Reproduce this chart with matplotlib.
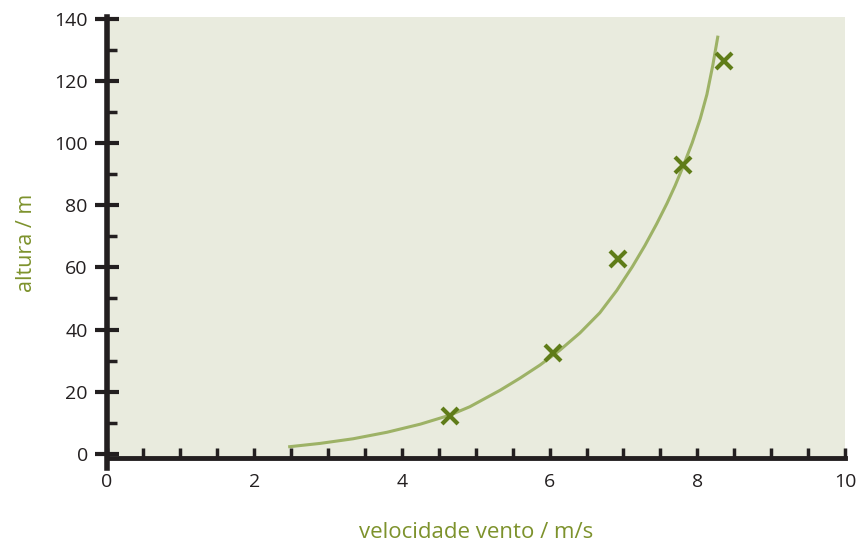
import numpy as np
import matplotlib
matplotlib.use("Agg")
import matplotlib.pyplot as plt
from matplotlib.ticker import MultipleLocator

# measured points: wind speed (m/s) vs height (m)
vel = [4.65, 6.05, 6.92, 7.81, 8.36]
alt = [12.2, 32.6, 62.6, 92.9, 126.3]

# fitted trend curve, sampled along its path
curve_vel = [2.46, 2.89, 3.34, 3.80, 4.25, 4.65, 4.92, 5.33, 5.60, 5.87,
             6.14, 6.41, 6.68, 6.91, 7.12, 7.29, 7.45, 7.59, 7.70, 7.81,
             7.93, 8.04, 8.13, 8.21, 8.28]
curve_alt = [2.3, 3.4, 4.9, 7.0, 9.6, 12.5, 15.2, 20.5, 24.4, 28.6,
             33.4, 38.9, 45.4, 52.6, 60.2, 67.0, 74.0, 80.6, 86.3, 92.6,
             100.0, 107.8, 115.6, 125.0, 134.5]

x_major = [0, 2, 4, 6, 8, 10]
y_major = [0, 20, 40, 60, 80, 100, 120, 140]

BG = "#e9ebde"
CURVE = "#9db266"
MARK = "#5f7c18"
LABEL = "#7d922c"
AXIS = "#231f20"

plt.rcParams["font.family"] = ["Open Sans", "DejaVu Sans"]

fig = plt.figure(figsize=(8.58, 5.44), dpi=100)
ax = fig.add_axes([106.5 / 858, 1 - 468 / 544, (845 - 106.5) / 858, (468 - 17) / 544])

y_axis_pos = -1.3
ax.set_xlim(0, 10)
ax.set_ylim(-4.5, 140.5)
ax.set_facecolor("white")
ax.axhspan(y_axis_pos, 140.5, color=BG, zorder=0, lw=0)

ax.plot(curve_vel, curve_alt, color=CURVE, lw=2.2, solid_joinstyle="round",
        solid_capstyle="butt", zorder=2)
ax.plot(vel, alt, ls="none", marker="x", ms=11, mew=3, color=MARK, zorder=3)

for side in ("top", "right"):
    ax.spines[side].set_visible(False)
ax.spines["left"].set_linewidth(4)
ax.spines["left"].set_color(AXIS)
ax.spines["bottom"].set_linewidth(3.5)
ax.spines["bottom"].set_color(AXIS)
ax.spines["bottom"].set_position(("data", y_axis_pos))

ax.xaxis.set_minor_locator(MultipleLocator(0.5))
ax.yaxis.set_minor_locator(MultipleLocator(10))
ax.set_xticks(x_major)
ax.set_yticks(y_major)

ax.tick_params(axis="x", which="both", direction="in", length=7.5, width=2.5,
               color=AXIS, pad=11, labelsize=14, labelcolor=AXIS)
ax.tick_params(axis="y", which="major", direction="inout", length=17, width=3,
               color=AXIS, pad=5, labelsize=14, labelcolor=AXIS)
ax.tick_params(axis="y", which="minor", direction="in", length=7, width=2.5,
               color=AXIS)

ax.set_xlabel("velocidade vento / m/s", color=LABEL, fontsize=16, labelpad=22)
ax.set_ylabel("altura / m", color=LABEL, fontsize=15.5, labelpad=12)

fig.savefig("out.png", dpi=100)
